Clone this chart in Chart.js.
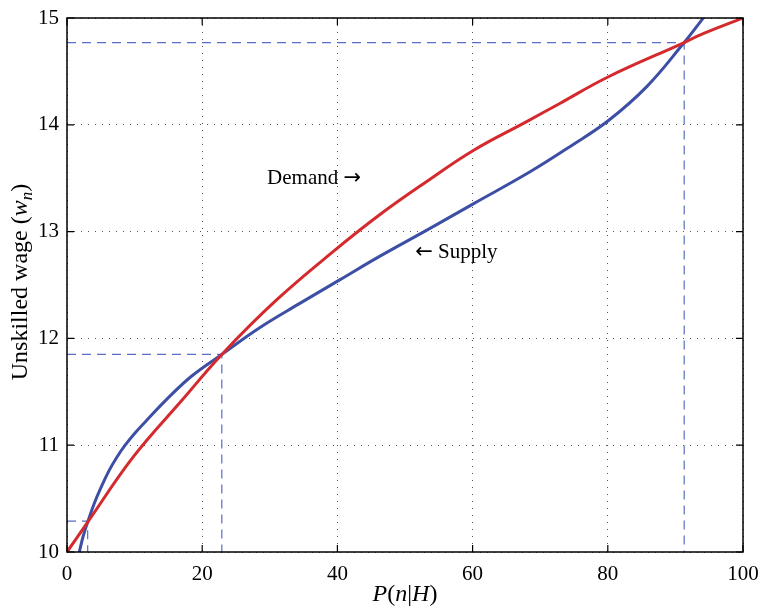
<!DOCTYPE html>
<html>
<head>
<meta charset="utf-8">
<script src="https://cdn.jsdelivr.net/npm/chart.js@4"></script>
<style>
  html, body { margin: 0; padding: 0; background: #fff; }
  #wrap { width: 761px; height: 607px; }
</style>
</head>
<body>
<div id="wrap"><canvas id="wageChart" width="761" height="607"></canvas></div>
<script>
// values
const supplyX = [1.82, 2.4, 3.06, 4.0, 5.0, 6.2, 7.4, 8.6, 10.0, 11.6, 14.6, 18.5, 22.9, 28.5, 34.5, 40.4, 46.3, 53.7, 60.1, 68.5, 74.5, 80.1, 85.8, 91.3, 93.4, 94.1];
const supplyY = [10.0, 10.15, 10.28, 10.45, 10.6, 10.76, 10.89, 11.0, 11.11, 11.22, 11.42, 11.65, 11.85, 12.1, 12.33, 12.55, 12.77, 13.03, 13.26, 13.56, 13.8, 14.04, 14.36, 14.77, 14.94, 15.0];
const demandX = [0, 3.06, 9.8, 17.0, 22.9, 31, 39.9, 46.3, 53, 60.1, 68, 72.9, 80.1, 91.3, 93.6, 100];
const demandY = [10, 10.28, 10.89, 11.42, 11.85, 12.36, 12.84, 13.16, 13.46, 13.76, 14.03, 14.2, 14.45, 14.77, 14.84, 15];
// equilibria (crossings)
const eqX = [3.06, 22.9, 91.3];
const eqY = [10.29, 11.85, 14.77];
const xTicks = [0, 20, 40, 60, 80, 100];
const yTicks = [10, 11, 12, 13, 14, 15];

const serif = "'Liberation Serif', 'DejaVu Serif', serif";
const blue = '#3d4fa5';
const red = '#d42a2e';

function pts(xs, ys) {
    return xs.map((x, i) => ({ x: x, y: ys[i] }));
}

let dashSets = eqX.map((x, i) => ({
    data: [{ x: 0, y: eqY[i] }, { x: x, y: eqY[i] }, { x: x, y: 10 }],
    borderColor: '#5b6cc2',
    borderWidth: 1.2,
    borderDash: [9, 6],
    pointRadius: 0,
    tension: 0,
    order: 3
}));

// box, inward ticks, labels with italic parts
const decor = {
    id: 'decor',
    afterDraw(chart) {
        const ctx = chart.ctx;
        const a = chart.chartArea;
        const xs = chart.scales.x, ys = chart.scales.y;
        ctx.save();
        ctx.strokeStyle = '#000';
        ctx.lineWidth = 1.5;
        ctx.setLineDash([]);
        ctx.strokeRect(a.left, a.top, a.right - a.left, a.bottom - a.top);
        ctx.lineWidth = 1.2;
        ctx.beginPath();
        xTicks.forEach(v => {
            const px = xs.getPixelForValue(v);
            ctx.moveTo(px, a.bottom); ctx.lineTo(px, a.bottom - 7);
            ctx.moveTo(px, a.top); ctx.lineTo(px, a.top + 7);
        });
        yTicks.forEach(v => {
            const py = ys.getPixelForValue(v);
            ctx.moveTo(a.left, py); ctx.lineTo(a.left + 7, py);
            ctx.moveTo(a.right, py); ctx.lineTo(a.right - 7, py);
        });
        ctx.stroke();

        // curve labels
        ctx.fillStyle = '#000';
        ctx.textBaseline = 'middle';
        ctx.textAlign = 'left';
        let lx = xs.getPixelForValue(29.6), ly = ys.getPixelForValue(13.5);
        ctx.font = '21px ' + serif;
        ctx.fillText('Demand', lx, ly);
        lx += ctx.measureText('Demand ').width;
        ctx.font = '21px DejaVu Sans';
        ctx.fillText('\u2192', lx, ly);

        lx = xs.getPixelForValue(51.5); ly = ys.getPixelForValue(12.8);
        ctx.font = '21px DejaVu Sans';
        ctx.fillText('\u2190', lx, ly);
        lx += ctx.measureText('\u2190').width;
        ctx.font = '21px ' + serif;
        ctx.fillText(' Supply', lx, ly);

        // x title: P(n|H)
        const xParts = [['P', true], ['(', false], ['n', true], ['|', false], ['H', true], [')', false]];
        let w = 0;
        xParts.forEach(p => { ctx.font = (p[1] ? 'italic ' : '') + '24px ' + serif; w += ctx.measureText(p[0]).width; });
        let cx = (a.left + a.right) / 2 - w / 2;
        ctx.textBaseline = 'alphabetic';
        xParts.forEach(p => {
            ctx.font = (p[1] ? 'italic ' : '') + '24px ' + serif;
            ctx.fillText(p[0], cx, 601);
            cx += ctx.measureText(p[0]).width;
        });

        // y title: Unskilled wage (w_n)
        ctx.translate(27, (a.top + a.bottom) / 2 - 3);
        ctx.rotate(-Math.PI / 2);
        const yParts = [['Unskilled wage (', '24px', 0, false], ['w', '24px', 0, true], ['n', '17px', 5, true], [')', '24px', 0, false]];
        w = 0;
        yParts.forEach(p => { ctx.font = (p[3] ? 'italic ' : '') + p[1] + ' ' + serif; w += ctx.measureText(p[0]).width; });
        cx = -w / 2;
        yParts.forEach(p => {
            ctx.font = (p[3] ? 'italic ' : '') + p[1] + ' ' + serif;
            ctx.fillText(p[0], cx, p[2]);
            cx += ctx.measureText(p[0]).width;
        });
        ctx.restore();
    }
};

const ctx = document.getElementById('wageChart');
new Chart(ctx, {
    type: 'line',
    data: {
        datasets: [
            {
                label: 'Demand',
                data: pts(demandX, demandY),
                borderColor: red,
                borderWidth: 3,
                pointRadius: 0,
                tension: 0.4,
                order: 1
            },
            {
                label: 'Supply',
                data: pts(supplyX, supplyY),
                borderColor: blue,
                borderWidth: 3,
                pointRadius: 0,
                tension: 0.4,
                order: 2
            },
            ...dashSets
        ]
    },
    options: {
        responsive: false,
        animation: false,
        layout: { padding: { top: 18, right: 18, left: 0, bottom: 0 } },
        plugins: { legend: { display: false }, tooltip: { enabled: false } },
        scales: {
            x: {
                type: 'linear',
                min: 0, max: 100,
                afterFit: s => { s.height = 55; s.paddingRight = 0; s.paddingLeft = 0; },
                afterBuildTicks: s => { s.ticks = xTicks.map(v => ({ value: v })); },
                grid: { color: '#555', lineWidth: 1, drawTicks: false },
                border: { display: false, dash: [1, 6] },
                ticks: { color: '#000', padding: 10, font: { family: serif, size: 21 } }
            },
            y: {
                type: 'linear',
                min: 10, max: 15,
                afterFit: s => { s.width = 67; s.paddingTop = 0; s.paddingBottom = 0; },
                afterBuildTicks: s => { s.ticks = yTicks.map(v => ({ value: v })); },
                grid: { color: '#555', lineWidth: 1, drawTicks: false },
                border: { display: false, dash: [1, 6] },
                ticks: { color: '#000', padding: 8, font: { family: serif, size: 21 } }
            }
        }
    },
    plugins: [decor]
});
</script>
</body>
</html>
